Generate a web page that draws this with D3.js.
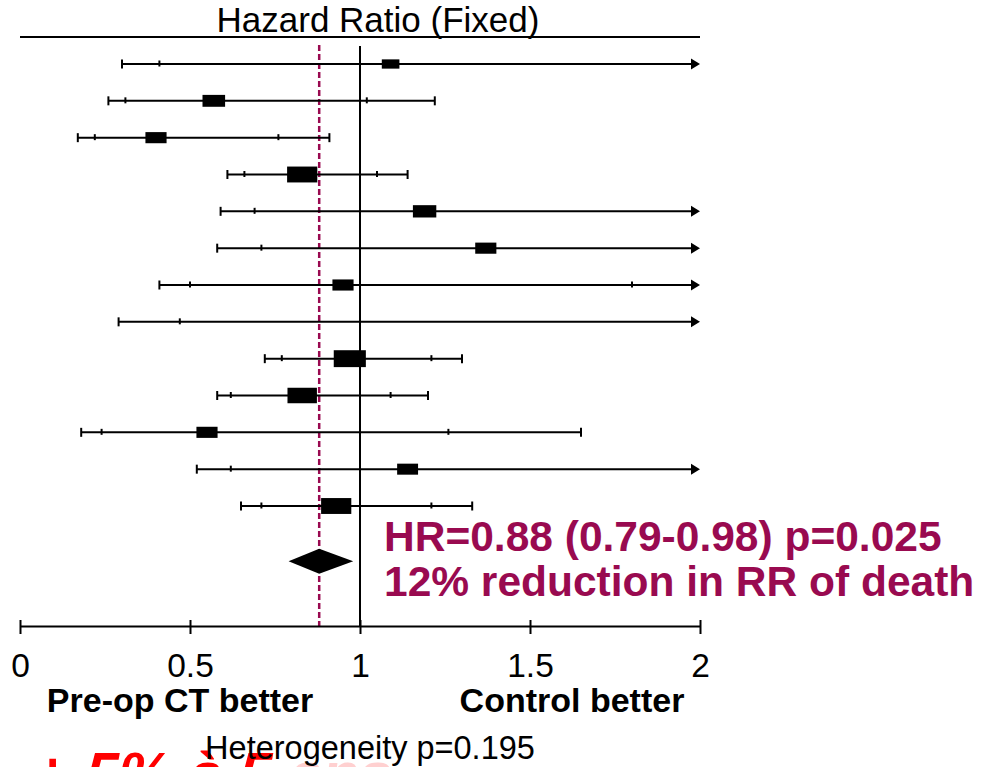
<!DOCTYPE html>
<html>
<head>
<meta charset="utf-8">
<script src="https://cdn.jsdelivr.net/npm/d3@7"></script>
<style>
  html, body { margin: 0; padding: 0; background: #fff; overflow: hidden; }
  svg { display: block; font-family: "Liberation Sans", Arial, sans-serif; }
</style>
</head>
<body>
<svg id="chart" width="990" height="767"></svg>
<script>
// Per-trial hazard ratios with 95% and 99% confidence limits, and trial weights (%)
const trialHR   = [1.09, 0.57, 0.40, 0.83, 1.19, 1.37, 0.95, 2.12, 0.97, 0.83, 0.55, 1.14, 0.93];
const trialLo95 = [0.41, 0.31, 0.22, 0.66, 0.69, 0.71, 0.50, 0.47, 0.77, 0.62, 0.24, 0.62, 0.71];
const trialHi95 = [2.94, 1.02, 0.76, 1.05, 2.05, 2.62, 1.80, 9.60, 1.21, 1.09, 1.26, 2.06, 1.21];
const trialLo99 = [0.30, 0.26, 0.17, 0.61, 0.59, 0.58, 0.41, 0.29, 0.72, 0.58, 0.18, 0.52, 0.65];
const trialHi99 = [4.02, 1.22, 0.91, 1.14, 2.44, 3.20, 2.25, 15.6, 1.30, 1.20, 1.65, 2.49, 1.33];
const trialWeight = [3.4, 5.6, 4.9, 10.0, 6.0, 4.9, 4.9, 1.0, 11.3, 9.5, 4.9, 4.8, 10.0];

// Pooled (fixed-effect) estimate
const pooled = { hr: 0.88, lo: 0.79, hi: 0.98, p: "0.025", reduction: 12 };
const heterogeneityP = "0.195";

const axisTicks = [0, 0.5, 1, 1.5, 2];
const titleText = "Hazard Ratio (Fixed)";
const leftLabel = "Pre-op CT better";
const rightLabel = "Control better";

const svg = d3.select("#chart");
const ink = "#000";
const accent = "#990a50";

const x = d3.scaleLinear().domain([0, 2]).range([20, 700]);
const y = d3.scaleLinear().domain([0, 12]).range([64, 506]);
const axisY = 626;
const plotTop = 45;

// header
svg.append("text")
  .attr("x", 378).attr("y", 32)
  .attr("text-anchor", "middle")
  .attr("font-size", 35)
  .text(titleText);
svg.append("line")
  .attr("x1", x(0)).attr("x2", x(2))
  .attr("y1", 37).attr("y2", 37)
  .attr("stroke", ink).attr("stroke-width", 2);

// line of no effect
svg.append("line")
  .attr("x1", x(1)).attr("x2", x(1))
  .attr("y1", plotTop + 1).attr("y2", axisY)
  .attr("stroke", ink).attr("stroke-width", 2);

// pooled estimate reference line
svg.append("line")
  .attr("x1", x(pooled.hr)).attr("x2", x(pooled.hr))
  .attr("y1", plotTop).attr("y2", axisY)
  .attr("stroke", accent).attr("stroke-width", 2.5)
  .attr("stroke-dasharray", "6,3");

// trials
const rows = trialHR.map((hr, i) => ({
  i, hr, lo95: trialLo95[i], hi95: trialHi95[i],
  lo99: trialLo99[i], hi99: trialHi99[i], w: trialWeight[i]
}));
const [dMin, dMax] = x.domain();
const clamp = v => Math.max(dMin, Math.min(dMax, v));
const arrowLen = 9, arrowHalf = 5.5;

const g = svg.append("g").attr("class", "trials");
rows.forEach(r => {
  const cy = y(r.i);
  const row = g.append("g");
  const overflow = r.hi99 > dMax;
  const xEnd = overflow ? x(dMax) - arrowLen : x(clamp(r.hi99));
  row.append("line")
    .attr("x1", x(clamp(r.lo99))).attr("x2", xEnd)
    .attr("y1", cy).attr("y2", cy)
    .attr("stroke", ink).attr("stroke-width", 2);
  // 99% limits: end caps
  [r.lo99, r.hi99].filter(v => v >= dMin && v <= dMax).forEach(v => {
    row.append("line")
      .attr("x1", x(v)).attr("x2", x(v))
      .attr("y1", cy - 4.5).attr("y2", cy + 4.5)
      .attr("stroke", ink).attr("stroke-width", 2);
  });
  // 95% limits: inner ticks
  [r.lo95, r.hi95].filter(v => v >= dMin && v <= dMax).forEach(v => {
    row.append("line")
      .attr("x1", x(v)).attr("x2", x(v))
      .attr("y1", cy - 3.5).attr("y2", cy + 2.5)
      .attr("stroke", ink).attr("stroke-width", 2);
  });
  if (overflow) {
    const tip = x(dMax);
    row.append("path")
      .attr("d", `M${tip},${cy} L${tip - arrowLen},${cy - arrowHalf} L${tip - arrowLen},${cy + arrowHalf} Z`)
      .attr("fill", ink);
  }
  // box sized by weight (area proportional)
  if (r.hr >= dMin && r.hr <= dMax) {
    const area = 48 * r.w, aspect = 1.9;
    const bw = Math.sqrt(area * aspect), bh = Math.sqrt(area / aspect);
    row.append("rect")
      .attr("x", x(r.hr) - bw / 2).attr("y", cy - bh / 2)
      .attr("width", bw).attr("height", bh)
      .attr("fill", ink);
  }
});

// pooled diamond
const dy = y(13.5), dh = 12.5;
svg.append("path")
  .attr("d", `M${x(pooled.lo)},${dy} L${x(pooled.hr)},${dy - dh} L${x(pooled.hi)},${dy} L${x(pooled.hr)},${dy + dh} Z`)
  .attr("fill", ink);

// pooled result text
const fmt2 = d3.format(".2f");
svg.append("text")
  .attr("x", 384).attr("y", 551)
  .attr("font-size", 42.5).attr("font-weight", "bold").attr("fill", accent)
  .text(`HR=${fmt2(pooled.hr)} (${fmt2(pooled.lo)}-${fmt2(pooled.hi)}) p=${pooled.p}`);
svg.append("text")
  .attr("x", 384).attr("y", 596)
  .attr("font-size", 42.5).attr("font-weight", "bold").attr("fill", accent)
  .text(`${pooled.reduction}% reduction in RR of death`);

// x axis
const axis = d3.axisBottom(x)
  .tickValues(axisTicks)
  .tickFormat(d3.format("~g"))
  .tickSizeOuter(0)
  .tickSizeInner(8);
const ax = svg.append("g")
  .attr("transform", `translate(0,${axisY})`)
  .call(axis);
ax.select(".domain").attr("stroke", ink).attr("stroke-width", 2);
ax.selectAll(".tick line").attr("y1", -6).attr("y2", 8).attr("stroke", ink).attr("stroke-width", 2);
ax.selectAll(".tick text")
  .attr("y", 51).attr("dy", null)
  .attr("font-size", 33.5).attr("fill", ink)
  .attr("font-family", "'Liberation Sans', Arial, sans-serif");

// direction labels
svg.append("text")
  .attr("x", 180).attr("y", 712).attr("text-anchor", "middle")
  .attr("font-size", 34).attr("font-weight", "bold")
  .text(leftLabel);
svg.append("text")
  .attr("x", 572).attr("y", 712).attr("text-anchor", "middle")
  .attr("font-size", 34).attr("font-weight", "bold")
  .text(rightLabel);

// headline gain, partly below the frame
const gain = svg.append("text")
  .attr("x", 34).attr("y", 794)
  .attr("font-size", 60).attr("font-weight", "bold").attr("font-style", "italic");
gain.append("tspan").attr("fill", "#ff0000").text("+ 5% à 5 ");
gain.append("tspan").attr("fill", "#ffd0d0").text("ans");

// heterogeneity
svg.append("text")
  .attr("x", 370).attr("y", 759).attr("text-anchor", "middle")
  .attr("font-size", 32.5)
  .text(`Heterogeneity p=${heterogeneityP}`);
</script>
</body>
</html>
